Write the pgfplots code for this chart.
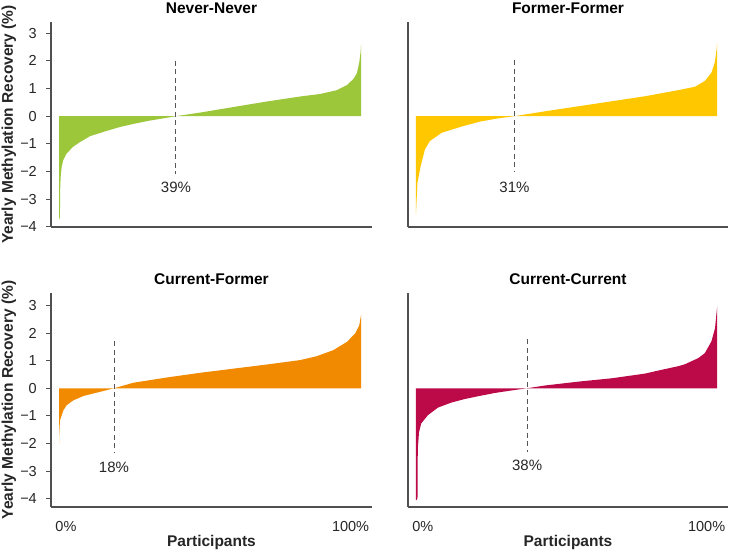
\documentclass[border=0pt]{standalone}
\usepackage{fontspec}
\setmainfont{Liberation Sans}
\usepackage{pgfplots}
\pgfplotsset{compat=1.18}
\definecolor{cgreen}{HTML}{9DC73B}
\definecolor{cyellow}{HTML}{FFC700}
\definecolor{corange}{HTML}{F18A00}
\definecolor{ccrimson}{HTML}{BC0A48}
\definecolor{axgray}{HTML}{505050}
\definecolor{dashgray}{HTML}{555555}
\tikzset{
  pct/.style={font=\fontsize{15}{18}\selectfont, text=black!85, anchor=base, inner sep=0pt},
  dashv/.style={dashgray, line width=0.9pt, dash pattern=on 5pt off 3.5pt},
}
\pgfplotsset{
  panel/.style={
    scale only axis, clip=false,
    axis x line*=bottom, axis y line*=left,
    axis line style={-, draw=axgray, line width=1.1pt},
    tick align=outside, major tick length=5pt,
    tick style={draw=axgray, line width=1pt},
    xmin=-2.65, xmax=103.6,
    /pgf/number format/assume math mode=true,
    title style={font=\fontsize{15.5}{18}\selectfont\bfseries, at={(axis description cs:0.5,1)}, anchor=base, yshift=2.5pt, inner sep=0pt},
    tick label style={font=\fontsize{14.5}{17}\selectfont, text=black!85},
    label style={font=\fontsize{15.5}{18}\selectfont\bfseries, text=black!85},
    xlabel style={at={(axis description cs:0.5,0)}, anchor=base, yshift=-40pt, inner sep=0pt},
    ylabel style={at={(axis description cs:-0.131,0.5)}, anchor=center, inner sep=0pt},
    yticklabel style={anchor=east, inner sep=0pt, xshift=-9pt},
  },
  leftp/.style={ytick={-4,-3,-2,-1,0,1,2,3}, yticklabels={−4,−3,−2,−1,0,1,2,3},
    ylabel={Yearly Methylation Recovery (\%)}},
  rightp/.style={ytick=\empty},
  topp/.style={xtick=\empty, ymin=-4, ymax=3.4, height=205pt},
  botp/.style={xtick={2.3,96.5}, xticklabels={0\%,100\%}, x tick style={draw=none},
    xticklabel style={anchor=base, yshift=-20pt, inner sep=0pt},
    xlabel={Participants}, ymin=-4.3, ymax=3.45, height=214pt},
}
\begin{document}
\begin{tikzpicture}
\useasboundingbox (0,0) rectangle (729pt,553pt);
% Never-Never
\begin{axis}[panel, leftp, topp, width=321pt, at={(51pt,326pt)}, anchor=south west, title={Never-Never}]
\addplot[fill=cgreen, draw=none] coordinates {
(0,0) (0,-3.73) (0.3,-3.65) (0.4,-2.6) (0.55,-2.19) (0.88,-1.83) (1.4,-1.59) (2.5,-1.35)
(4.7,-1.1) (7,-0.93) (10.3,-0.72) (15.8,-0.53) (20.2,-0.39) (25,-0.27) (30,-0.16) (35,-0.07)
(38.7,0) (46.7,0.13) (57.7,0.33) (68.8,0.53) (79.8,0.71) (86.4,0.8) (92,0.94) (95.3,1.12)
(97.5,1.35) (98.6,1.55) (99.4,1.95) (99.8,2.3) (100,2.6) (100,0)};
\addplot[dashv] coordinates {(38.7,2) (38.7,-2.1)};
\node[pct] at (axis cs:38.7,-2.74) {39\%};
\end{axis}
% Former-Former
\begin{axis}[panel, rightp, topp, width=320pt, at={(408pt,326pt)}, anchor=south west, title={Former-Former}]
\addplot[fill=cyellow, draw=none] coordinates {
(0,0) (0,-3.53) (0.1,-3.3) (0.22,-3.0) (0.5,-2.4) (1.54,-1.81) (2.97,-1.2) (4.6,-0.9)
(8.5,-0.6) (15.6,-0.36) (21.1,-0.2) (26.6,-0.09) (32.7,0) (43.1,0.18) (54.1,0.36)
(65.1,0.54) (76.1,0.72) (87.1,0.94) (92.6,1.06) (95.9,1.27) (98.1,1.57) (99.2,1.93)
(99.8,2.4) (100,2.65) (100,0)};
\addplot[dashv] coordinates {(32.7,2.02) (32.7,-2.02)};
\node[pct] at (axis cs:32.7,-2.74) {31\%};
\end{axis}
% Current-Former
\begin{axis}[panel, leftp, botp, width=321pt, at={(51pt,46pt)}, anchor=south west, title={Current-Former}]
\addplot[fill=corange, draw=none] coordinates {
(0,0) (0,-2.0) (0.1,-1.6) (0.33,-1.16) (1.43,-0.8) (2.5,-0.62) (4.7,-0.44) (8.1,-0.28)
(13.6,-0.13) (18.2,0) (22.4,0.13) (24.6,0.2) (35.7,0.39) (46.7,0.56) (57.7,0.71)
(68.8,0.86) (79.8,1.02) (85.3,1.16) (90.8,1.38) (95.3,1.68) (98,1.98) (99.4,2.28)
(100,2.68) (100,0)};
\addplot[dashv] coordinates {(18.2,1.7) (18.2,-2.36)};
\node[pct] at (axis cs:18.2,-3.05) {18\%};
\end{axis}
% Current-Current
\begin{axis}[panel, rightp, botp, width=320pt, at={(408pt,46pt)}, anchor=south west, title={Current-Current}]
\addplot[fill=ccrimson, draw=none] coordinates {
(0,0) (0,-4.06) (0.5,-4.0) (0.6,-2.2) (1.0,-1.6) (1.76,-1.27) (4,-0.97) (7.3,-0.7)
(11.7,-0.52) (16.2,-0.39) (20.6,-0.29) (26.2,-0.17) (31.7,-0.08) (36.9,0) (42.8,0.1)
(53.9,0.24) (64.9,0.36) (76,0.53) (80.4,0.64) (87.1,0.8) (89.3,0.87) (93.7,1.09)
(95.9,1.27) (98.1,1.7) (99.3,2.18) (100,2.97) (100,0)};
\addplot[dashv] coordinates {(36.9,1.78) (36.9,-2.3)};
\node[pct] at (axis cs:36.9,-2.98) {38\%};
\end{axis}
\end{tikzpicture}
\end{document}
